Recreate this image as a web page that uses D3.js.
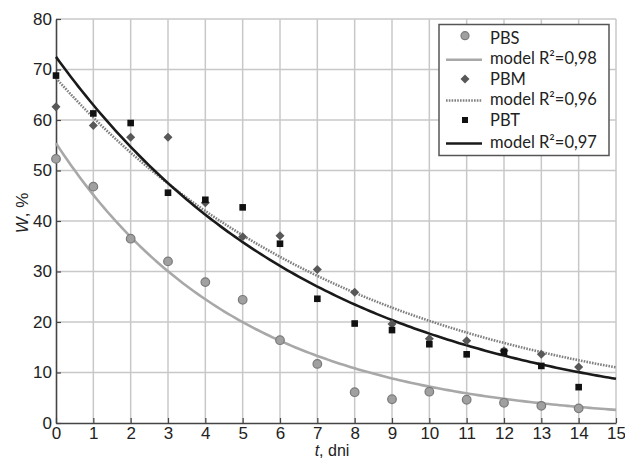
<!DOCTYPE html>
<html><head><meta charset="utf-8">
<script src="https://cdn.jsdelivr.net/npm/d3@7"></script>
<style>body{margin:0;background:#fff}svg{display:block}</style>
</head><body>
<svg id="c" width="625" height="461"></svg>
<script>
const days = [0,1,2,3,4,5,6,7,8,9,10,11,12,13,14];
const pbs = [52.3,46.8,36.5,32.0,27.9,24.4,16.4,11.7,6.1,4.7,6.2,4.6,4.0,3.4,2.9];
const pbm = [62.6,58.9,56.6,56.6,43.6,36.9,37.1,30.4,25.9,19.6,16.7,16.3,14.3,13.6,11.1];
const pbt = [68.8,61.3,59.4,45.6,44.2,42.7,35.5,24.6,19.7,18.4,15.6,13.6,14.1,11.3,7.1];
const modelNames = ["model R²=0,98","model R²=0,96","model R²=0,97"];
const modelA = [55.4,68.3,72.5];
const modelK = [0.204,0.1217,0.141];
const xTicks = d3.range(0,16);
const yTicks = [0,10,20,30,40,50,60,70,80];

const svg = d3.select("#c");
const m = {l:56,t:19,r:616,b:423};
const x = d3.scaleLinear().domain([0,15]).range([m.l,m.r]);
const y = d3.scaleLinear().domain([0,80]).range([m.b,m.t]);

// grid
svg.append("g").selectAll("line").data(xTicks.slice(1)).join("line")
  .attr("x1",d=>x(d)).attr("x2",d=>x(d)).attr("y1",m.t).attr("y2",m.b)
  .attr("stroke","#c8c8c8").attr("stroke-width",1.5);
svg.append("g").selectAll("line").data(yTicks.slice(1)).join("line")
  .attr("x1",m.l).attr("x2",m.r).attr("y1",d=>y(d)).attr("y2",d=>y(d))
  .attr("stroke","#c8c8c8").attr("stroke-width",1.5);

// axes
const fontTick = "Liberation Sans, Arial, sans-serif";
const xa = svg.append("g").attr("transform",`translate(0,${m.b})`)
  .call(d3.axisBottom(x).tickValues(xTicks).tickSizeInner(-5).tickSizeOuter(0).tickPadding(4));
const ya = svg.append("g").attr("transform",`translate(${m.l},0)`)
  .call(d3.axisLeft(y).tickValues(yTicks).tickSizeInner(-5).tickSizeOuter(0).tickPadding(4));
[xa,ya].forEach(a=>{
  a.select(".domain").attr("stroke","#444").attr("stroke-width",1.6);
  a.selectAll(".tick line").attr("stroke","#444").attr("stroke-width",1.2);
  a.selectAll(".tick text").attr("font-family",fontTick).attr("font-size",17).attr("fill","#222");
});

// model curves
const tt = d3.range(0,15.001,0.1);
const lineGen = d3.line().x(d=>x(d[0])).y(d=>y(d[1]));
const styles = [
  {stroke:"#a8a8a8",w:2.6,dash:null},
  {stroke:"#808080",w:2.6,dash:"1.6,1.2"},
  {stroke:"#1a1a1a",w:2.6,dash:null}
];
modelA.forEach((a,i)=>{
  const pts = tt.map(t=>[t,a*Math.exp(-modelK[i]*t)]);
  svg.append("path").datum(pts).attr("d",lineGen).attr("fill","none")
    .attr("stroke",styles[i].stroke).attr("stroke-width",styles[i].w)
    .attr("stroke-dasharray",styles[i].dash);
});

// markers
svg.append("g").selectAll("circle").data(days).join("circle")
  .attr("cx",(d,i)=>x(d)).attr("cy",(d,i)=>y(pbs[i])).attr("r",4.3)
  .attr("fill","#a0a0a0").attr("stroke","#7a7a7a").attr("stroke-width",1.2);
const dia = d3.symbol().type(d3.symbolDiamond2).size(52);
svg.append("g").selectAll("path").data(days).join("path")
  .attr("transform",(d,i)=>`translate(${x(d)},${y(pbm[i])})`)
  .attr("d",dia).attr("fill","#585858");
svg.append("g").selectAll("rect").data(days).join("rect")
  .attr("x",(d,i)=>x(d)-3.3).attr("y",(d,i)=>y(pbt[i])-3.3)
  .attr("width",6.6).attr("height",6.6).attr("fill","#111");

// legend
const lg = svg.append("g");
lg.append("rect").attr("x",439).attr("y",24.5).attr("width",170).attr("height",131)
  .attr("fill","#fff").attr("stroke","#555").attr("stroke-width",1.5);
const rows = [38.7,58.7,79,99.5,120,142.5];
const labels = ["PBS",modelNames[0],"PBM",modelNames[1],"PBT",modelNames[2]];
const lf = "Lato, 'Open Sans', sans-serif";
labels.forEach((t,i)=>{
  lg.append("text").attr("x",490).attr("y",rows[i]).attr("dy","0.35em")
    .attr("font-family",lf).attr("font-size",16.5).attr("fill","#222").text(t);
});
lg.append("circle").attr("cx",465).attr("cy",rows[0]-3).attr("r",4)
  .attr("fill","#a0a0a0").attr("stroke","#7a7a7a").attr("stroke-width",1.2);
lg.append("path").attr("transform",`translate(465,${rows[2]})`).attr("d",dia).attr("fill","#585858");
lg.append("rect").attr("x",462).attr("y",rows[4]-3).attr("width",6).attr("height",6).attr("fill","#111");
[1,3,5].forEach((r,i)=>{
  lg.append("line").attr("x1",446).attr("x2",482).attr("y1",rows[r]+1).attr("y2",rows[r]+1)
    .attr("stroke",styles[i].stroke).attr("stroke-width",styles[i].w)
    .attr("stroke-dasharray",styles[i].dash);
});

// axis titles
const yl = svg.append("text").attr("transform","translate(28,213) rotate(-90)")
  .attr("text-anchor","middle").attr("font-family",fontTick).attr("font-size",17).attr("fill","#222");
yl.append("tspan").attr("font-style","italic").text("W");
yl.append("tspan").text(", %");
const xl = svg.append("text").attr("x",332).attr("y",456)
  .attr("text-anchor","middle").attr("font-family",fontTick).attr("font-size",16).attr("fill","#222");
xl.append("tspan").attr("font-style","italic").text("t");
xl.append("tspan").text(", dni");
</script>
</body></html>
